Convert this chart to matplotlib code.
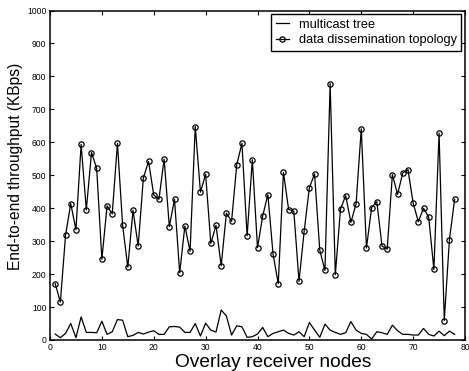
import matplotlib
matplotlib.use('Agg')
import matplotlib.pyplot as plt

plt.rcParams['font.family'] = ['Liberation Sans', 'DejaVu Sans']

# receiver node ids
nodes = list(range(1, 79))

# throughput along the multicast tree (KBps)
multicast_tree = [18, 7, 20, 50, 7, 70, 23, 23, 22, 57,
                  17, 25, 62, 60, 10, 14, 23, 18, 24, 28,
                  17, 17, 40, 41, 39, 23, 23, 50, 12, 51,
                  30, 24, 91, 73, 15, 43, 40, 8, 10, 18,
                  38, 10, 20, 25, 30, 20, 15, 25, 10, 53,
                  30, 8, 48, 30, 23, 17, 22, 56, 30, 20,
                  17, 3, 25, 22, 17, 45, 28, 17, 17, 15,
                  15, 35, 17, 12, 27, 13, 27, 17]

# throughput along the data dissemination topology (KBps)
dissemination = [171, 115, 318, 414, 335, 594, 395, 569, 521, 245,
                 407, 383, 597, 348, 221, 394, 285, 492, 542, 440,
                 427, 549, 344, 427, 204, 346, 269, 648, 449, 503,
                 293, 348, 225, 385, 360, 532, 597, 316, 547, 280,
                 377, 441, 260, 171, 509, 396, 391, 178, 331, 462,
                 504, 273, 211, 778, 198, 398, 438, 357, 413, 641,
                 279, 402, 420, 285, 276, 502, 442, 507, 517, 416,
                 359, 400, 373, 214, 628, 59, 305, 427]

fig = plt.figure(figsize=(4.69, 3.71), dpi=100)
# right edge pulled in a few px so the "80" tick label is not clipped
ax = fig.add_axes([0.1066, 0.0836, 0.8849, 0.888])

ax.plot(nodes, multicast_tree, color='black', linewidth=0.9, label='multicast tree')
ax.plot(nodes, dissemination, color='black', linewidth=0.9, marker='o',
        markersize=3.8, markerfacecolor='none', markeredgewidth=0.9,
        label='data dissemination topology')

ax.set_xlim(0, 80)
ax.set_ylim(0, 1000)
ax.set_xticks(range(0, 81, 10))
ax.set_yticks(range(0, 1001, 100))
ax.tick_params(direction='in', top=True, right=True, labelsize=6.2,
               length=3, width=0.8)
ax.tick_params(axis='y', pad=2.5)
ax.tick_params(axis='x', pad=2)
for s in ax.spines.values():
    s.set_linewidth(1.1)

ax.set_xlabel('Overlay receiver nodes', fontsize=13.8)
ax.set_ylabel('End-to-end throughput (KBps)', fontsize=11.2)
ax.xaxis.set_label_coords(0.538, -0.042)
ax.yaxis.set_label_coords(-0.065, 0.528)

leg = ax.legend(loc='upper right', fontsize=9.2, fancybox=False,
                edgecolor='black', framealpha=1, handlelength=1.05,
                handletextpad=0.75, borderpad=0.35, labelspacing=0.25,
                borderaxespad=0.3)
leg.get_frame().set_linewidth(1.0)

fig.savefig('out.png', dpi=100)
